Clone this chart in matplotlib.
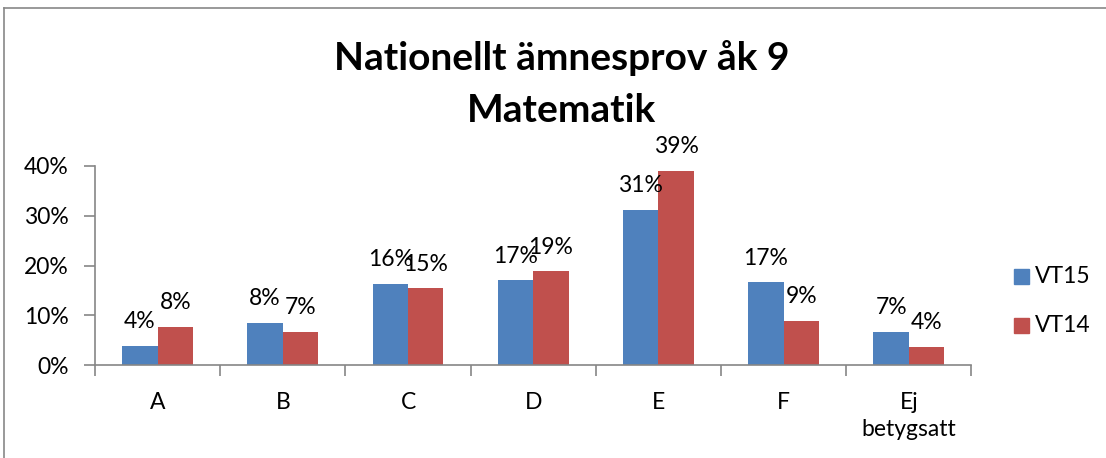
import matplotlib
matplotlib.use("Agg")
import matplotlib.pyplot as plt
from matplotlib.lines import Line2D
from matplotlib.patches import Rectangle
import numpy as np

categories = ["A", "B", "C", "D", "E", "F", "Ej\nbetygsatt"]
series_names = ["VT15", "VT14"]
vt15 = [3.9, 8.4, 16.3, 17.0, 31.1, 16.6, 6.7]
vt14 = [7.7, 6.7, 15.4, 18.8, 38.9, 8.8, 3.6]
yticks = [0, 10, 20, 30, 40]
title_lines = ["Nationellt ämnesprov åk 9", "Matematik"]

blue = "#4F81BD"
red = "#C0504D"
axis_gray = "#868686"
font = "Lato"
fs = 16.5

W, H = 1106, 458
fig = plt.figure(figsize=(W / 100, H / 100), dpi=100)
plt.rcParams["font.family"] = [font, "DejaVu Sans"]

# axes placed in pixel terms
left, right, bottom, top = 95, 971.4, 365.3, 165.7
ax = fig.add_axes([left / W, 1 - bottom / H, (right - left) / W, (bottom - top) / H])

x = np.arange(len(categories))
bw = 0.283
b1 = ax.bar(x - bw / 2, vt15, bw, color=blue, label=series_names[0], zorder=2)
b2 = ax.bar(x + bw / 2, vt14, bw, color=red, label=series_names[1], zorder=2)

for bars, vals in [(b1, vt15), (b2, vt14)]:
    ax.bar_label(bars, labels=[f"{round(v)}%" for v in vals], padding=10,
                 fontsize=fs, color="black")

ax.set_xlim(-0.5, len(categories) - 0.5)
ax.set_ylim(0, 40)
ax.set_yticks(yticks)
ax.set_yticklabels([f"{t}%" for t in yticks], fontsize=fs)
ax.set_xticks(x)
ax.set_xticklabels(categories, fontsize=fs, linespacing=1.35)
ax.tick_params(axis="x", length=0, pad=19)
ax.tick_params(axis="y", length=8, width=1.2, color=axis_gray, pad=11)

# category separator ticks
ax.set_xticks(np.arange(-0.5, len(categories), 1), minor=True)
ax.tick_params(axis="x", which="minor", length=8, width=1.2, color=axis_gray)

for s in ["top", "right"]:
    ax.spines[s].set_visible(False)
for s in ["left", "bottom"]:
    ax.spines[s].set_color(axis_gray)
    ax.spines[s].set_linewidth(1.2)

# title
fig.text(562 / W, 1 - 70 / H, title_lines[0], ha="center", va="baseline",
         fontsize=28, fontweight="bold")
fig.text(562 / W, 1 - 122 / H, title_lines[1], ha="center", va="baseline",
         fontsize=28, fontweight="bold")

# legend
for i, (name, col) in enumerate(zip(series_names, [blue, red])):
    y0 = 269 + i * 48.5
    fig.patches.append(Rectangle((1014 / W, 1 - (y0 + 15) / H), 15 / W, 15 / H,
                                 transform=fig.transFigure, color=col))
    fig.text(1035 / W, 1 - (y0 + 7.5) / H, name, ha="left", va="center", fontsize=fs)

# chart area border
fig.add_artist(Line2D([3.5 / W, 3.5 / W], [0, 1 - 8 / H], transform=fig.transFigure,
                      color="#888888", lw=1.2))
fig.add_artist(Line2D([3.5 / W, 1], [1 - 8 / H, 1 - 8 / H], transform=fig.transFigure,
                      color="#888888", lw=1.2))

fig.savefig("out.png", dpi=100)
